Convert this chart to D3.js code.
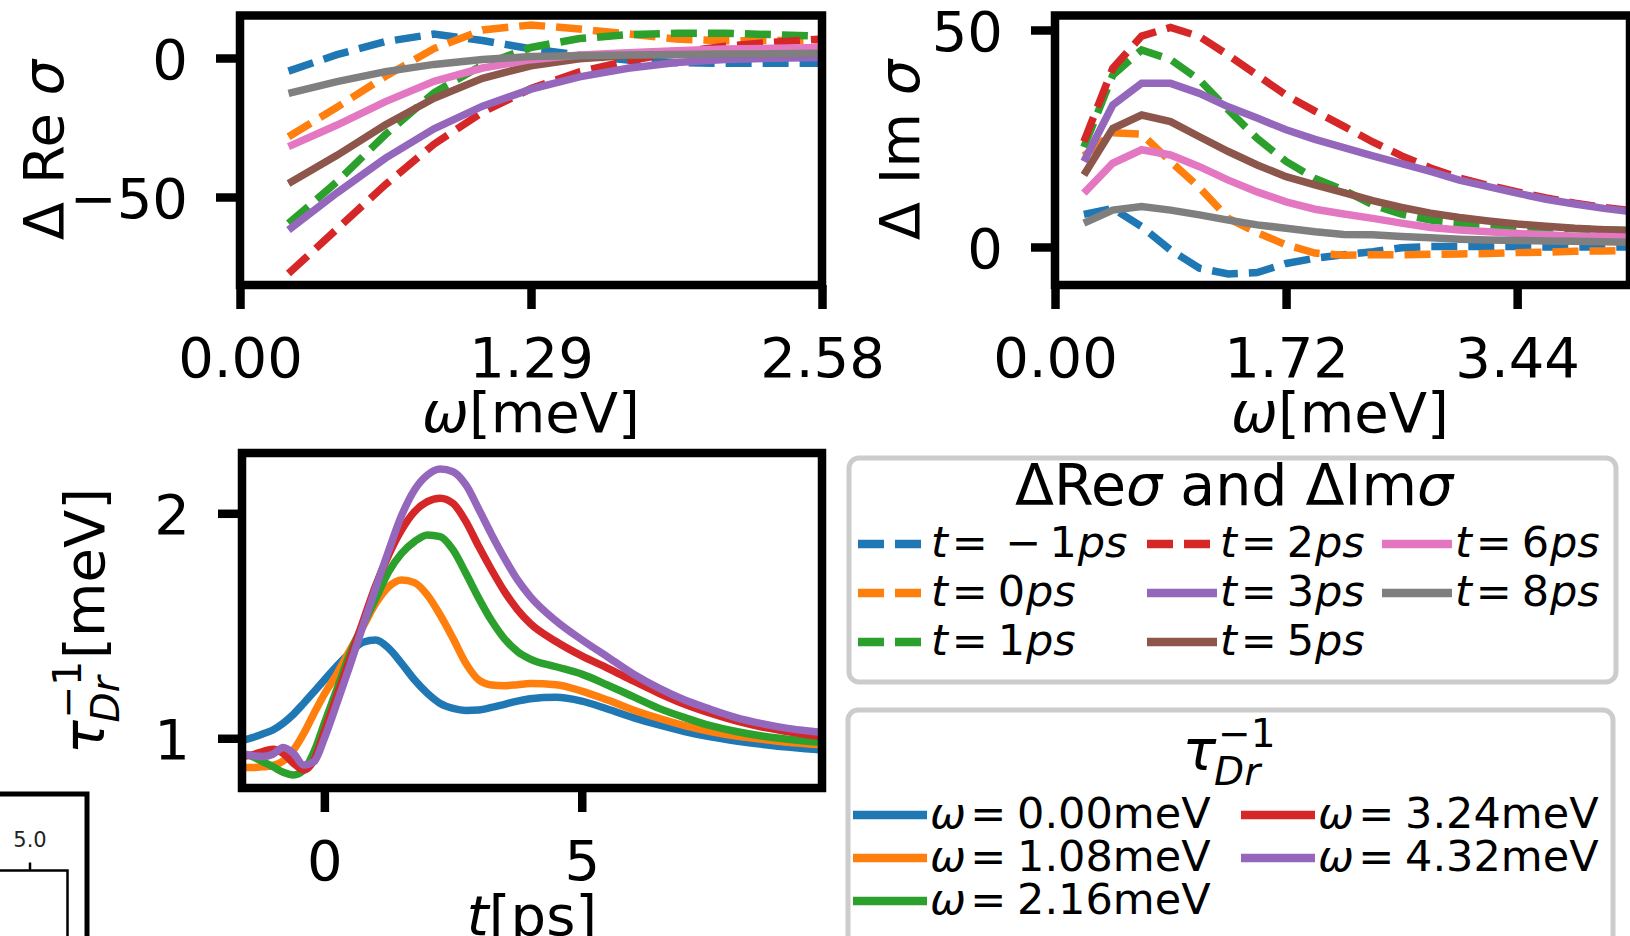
<!DOCTYPE html>
<html>
<head>
<meta charset="utf-8">
<script src="https://cdn.jsdelivr.net/npm/d3@7"></script>
<style>
  html, body { margin: 0; padding: 0; background: #fff; }
  svg { display: block; }
</style>
</head>
<body>
<svg id="fig" width="1630" height="936"></svg>
<script>
// ---------- data ----------
// frequency grid (meV) of the conductivity differences
const omegaRe = [0.215, 0.43, 0.645, 0.86, 1.075, 1.29, 1.505, 1.72, 1.935, 2.15, 2.365, 2.58];
const omegaIm = [0.215, 0.43, 0.645, 0.86, 1.075, 1.29, 1.505, 1.72, 1.935, 2.15, 2.365, 2.58,
                 2.795, 3.01, 3.225, 3.44, 3.655, 3.87, 4.085, 4.3];

// pump-probe delays (ps)
const delays = [-1, 0, 1, 2, 3, 5, 6, 8];

// Δ Re σ for each delay
const reTm1 = [-4.7, 1.2, 5.9, 8.6, 6.3, 3.3, 1.0, -0.7, -1.7, -1.9, -1.9, -1.9];
const reT0  = [-28.3, -17.7, -6.6, 3.4, 10.1, 11.9, 10.4, 8.7, 6.8, 6.2, 6.3, 6.5];
const reT1  = [-59.5, -44.5, -27.5, -12.5, -2.5, 3.8, 7.0, 8.4, 8.9, 8.9, 8.4, 7.9];
const reT2  = [-77.5, -61.5, -45.5, -31.0, -19.5, -11.0, -5.0, -1.0, 2.0, 4.2, 5.7, 6.8];
const reT3  = [-61.9, -48.5, -36.0, -25.5, -17.3, -11.2, -6.8, -3.7, -1.6, -0.5, -0.1, 0.2];
const reT5  = [-45.1, -35.0, -24.0, -14.5, -7.3, -2.8, -0.3, 0.9, 1.3, 1.5, 1.6, 1.7];
const reT6  = [-31.9, -24.1, -15.7, -8.4, -3.6, -0.6, 1.1, 1.9, 2.6, 3.2, 3.5, 3.8];
const reT8  = [-12.7, -8.5, -4.9, -2.3, -0.5, 0.5, 0.8, 1.1, 1.3, 1.4, 1.5, 1.7];

// Δ Im σ for each delay
const imTm1 = [7.5, 8.9, 4.7, -0.7, -4.9, -6.2, -5.9, -3.8, -2.6, -1.8, -1.1, -0.2, 0.1, 0.1, 0.1, 0.1, 0.0, 0.0, 0.0, 0.0];
const imT0  = [21.0, 26.3, 26.0, 19.7, 13.7, 6.6, 3.3, 0.5, -1.4, -1.9, -1.8, -1.8, -1.7, -1.6, -1.5, -1.3, -1.2, -1.0, -0.9, -0.8];
const imT1  = [23.0, 39.6, 45.4, 43.2, 38.5, 31.6, 25.0, 19.7, 15.8, 13.1, 9.7, 7.6, 6.2, 5.5, 5.1, 4.7, 4.4, 4.2, 4.0, 3.8];
const imT2  = [24.3, 41.2, 48.6, 50.6, 48.5, 44.2, 39.6, 35.0, 31.3, 27.8, 24.2, 21.0, 18.2, 15.9, 14.2, 12.7, 11.3, 10.1, 9.1, 8.3];
const imT3  = [19.7, 32.7, 37.7, 37.7, 35.4, 32.3, 29.7, 27.0, 24.8, 22.9, 21.0, 19.2, 17.4, 15.4, 13.9, 12.4, 11.0, 9.9, 8.9, 8.1];
const imT5  = [16.6, 27.3, 30.4, 28.9, 25.4, 22.0, 18.9, 16.2, 14.3, 12.5, 10.7, 9.1, 7.8, 6.8, 6.0, 5.3, 4.8, 4.3, 4.0, 3.7];
const imT6  = [12.4, 19.3, 22.4, 21.2, 18.5, 15.4, 12.7, 10.4, 8.7, 7.6, 6.6, 5.5, 4.5, 3.9, 3.5, 3.1, 2.8, 2.5, 2.4, 2.2];
const imT8  = [5.5, 8.5, 9.3, 8.5, 7.4, 6.2, 5.1, 4.3, 3.5, 2.9, 2.8, 2.4, 2.1, 1.8, 1.6, 1.5, 1.4, 1.3, 1.2, 1.1];

// Drude scattering rate vs delay time, one trace per probe frequency
const tGrid = [-1.6, -1.4, -1.2, -1.0, -0.8, -0.6, -0.4, -0.2, 0,
               0.25, 0.5, 0.75, 1.0, 1.25, 1.5, 1.75, 2.0, 2.25, 2.5, 2.75, 3.0, 3.25, 3.5, 3.75, 4.0,
               4.5, 5.0, 5.5, 6.0, 6.5, 7.0, 7.5, 8.0, 8.5, 9.0, 9.5, 9.7];
const omegaTau = [0.00, 1.08, 2.16, 3.24, 4.32];
const tauW000 = [0.990, 1.003, 1.019, 1.037, 1.067, 1.107, 1.156, 1.207, 1.259,
                 1.323, 1.380, 1.427, 1.437, 1.400, 1.333, 1.260, 1.200, 1.155, 1.133, 1.124, 1.126, 1.137, 1.151, 1.165, 1.176,
                 1.182, 1.165, 1.130, 1.092, 1.059, 1.030, 1.006, 0.988, 0.973, 0.961, 0.951, 0.947];
const tauW108 = [0.870, 0.870, 0.873, 0.879, 0.899, 0.948, 1.022, 1.111, 1.196,
                 1.289, 1.393, 1.496, 1.600, 1.674, 1.704, 1.692, 1.637, 1.548, 1.444, 1.333, 1.259, 1.237, 1.234, 1.238, 1.243,
                 1.238, 1.210, 1.170, 1.126, 1.089, 1.056, 1.030, 1.010, 0.996, 0.982, 0.973, 0.970];
const tauW216 = [0.930, 0.919, 0.896, 0.874, 0.849, 0.837, 0.859, 0.941, 1.067,
                 1.222, 1.378, 1.504, 1.622, 1.741, 1.822, 1.874, 1.904, 1.896, 1.837, 1.733, 1.622, 1.522, 1.442, 1.386, 1.352,
                 1.318, 1.285, 1.237, 1.185, 1.133, 1.092, 1.056, 1.030, 1.010, 0.996, 0.985, 0.982];
const tauW324 = [0.919, 0.926, 0.941, 0.951, 0.933, 0.889, 0.859, 0.904, 1.030,
                 1.193, 1.356, 1.519, 1.681, 1.815, 1.926, 2.007, 2.052, 2.067, 2.044, 1.963, 1.852, 1.748, 1.652, 1.572, 1.510,
                 1.430, 1.366, 1.312, 1.255, 1.200, 1.151, 1.111, 1.077, 1.050, 1.030, 1.012, 1.006];
const tauW432 = [0.933, 0.923, 0.919, 0.929, 0.959, 0.933, 0.881, 0.896, 1.000,
                 1.160, 1.326, 1.500, 1.670, 1.835, 1.990, 2.104, 2.170, 2.197, 2.185, 2.126, 2.018, 1.905, 1.800, 1.705, 1.630,
                 1.522, 1.438, 1.362, 1.286, 1.223, 1.170, 1.129, 1.092, 1.065, 1.044, 1.030, 1.025];

// axis ticks
const reTicksX = [0, 1.29, 2.58];
const reTicksY = [-50, 0];
const imTicksX = [0, 1.72, 3.44];
const imTicksY = [0, 50];
const tauTicksX = [0, 5];
const tauTicksY = [1, 2];
const insetTicks = [5.0];

const reSeries = [reTm1, reT0, reT1, reT2, reT3, reT5, reT6, reT8];
const imSeries = [imTm1, imT0, imT1, imT2, imT3, imT5, imT6, imT8];
const tauSeries = [tauW000, tauW108, tauW216, tauW324, tauW432];

// ---------- styling ----------
const FONT = "DejaVu Sans";
const BIG = 56, MED = 43, SUB = 39;
const SPINE = 8.5, LW = 7.5, LEG_LW = 8.5, DASH = "26 11";
const tab10 = ["#1f77b4", "#ff7f0e", "#2ca02c", "#d62728", "#9467bd", "#8c564b", "#e377c2", "#7f7f7f"];
const delayDashed = d => d <= 2;   // early delays drawn dashed

const svg = d3.select("#fig");
const defs = svg.append("defs");

function makeAxes(o) {
  const x = d3.scaleLinear().domain(o.xDomain).range([o.x0, o.x1]);
  const y = d3.scaleLinear().domain(o.yDomain).range([o.y1, o.y0]);
  defs.append("clipPath").attr("id", o.id).append("rect")
    .attr("x", o.x0).attr("y", o.y0).attr("width", o.x1 - o.x0).attr("height", o.y1 - o.y0);
  const g = svg.append("g");
  const lines = g.append("g").attr("clip-path", `url(#${o.id})`);
  const finish = () => {
    g.append("rect").attr("x", o.x0).attr("y", o.y0)
      .attr("width", o.x1 - o.x0).attr("height", o.y1 - o.y0)
      .attr("fill", "none").attr("stroke", "#000").attr("stroke-width", SPINE);
    const xa = g.append("g").attr("transform", `translate(0,${o.y1})`)
      .call(d3.axisBottom(x).tickValues(o.xTicks).tickFormat(o.xFormat).tickSizeInner(24).tickSizeOuter(0));
    const ya = g.append("g").attr("transform", `translate(${o.x0},0)`)
      .call(d3.axisLeft(y).tickValues(o.yTicks).tickFormat(o.yFormat).tickSizeInner(24).tickSizeOuter(0));
    [xa, ya].forEach(a => {
      a.attr("font-family", FONT).attr("font-size", BIG);
      a.select(".domain").remove();
      a.selectAll(".tick line").attr("stroke", "#000").attr("stroke-width", SPINE);
      a.selectAll(".tick text").attr("fill", "#000");
    });
    xa.selectAll(".tick text").attr("y", 92).attr("dy", null);
    ya.selectAll(".tick text").attr("x", -52).attr("dy", "0.36em");
  };
  return { x, y, g, lines, finish };
}

function addParts(text, parts) {
  parts.forEach(p => {
    const ts = text.append("tspan").text(p.s);
    if (p.it) ts.attr("font-style", "italic");
    if (p.dx != null) ts.attr("dx", p.dx + "em");
  });
  return text;
}

function label(x, y, parts, size, rotate) {
  const t = svg.append("text")
    .attr("font-family", FONT).attr("font-size", size).attr("fill", "#000")
    .attr("text-anchor", "middle");
  if (rotate) t.attr("transform", `translate(${x},${y}) rotate(-90)`);
  else t.attr("x", x).attr("y", y);
  return addParts(t, parts);
}

// ---------- Δ Re σ ----------
const re = makeAxes({
  id: "clipRe", x0: 240, x1: 822, y0: 15.5, y1: 285,
  xDomain: [0, 2.58], yDomain: [-81.65, 15.29],
  xTicks: reTicksX, yTicks: reTicksY, xFormat: d3.format(".2f"), yFormat: d3.format("d")
});
reSeries.forEach((vals, i) => {
  re.lines.append("path")
    .attr("d", d3.line().x((d, j) => re.x(omegaRe[j])).y(d => re.y(d))(vals))
    .attr("fill", "none").attr("stroke", tab10[i]).attr("stroke-width", LW)
    .attr("stroke-dasharray", delayDashed(delays[i]) ? DASH : null);
});
re.finish();
label(531, 432, [{ s: "ω", it: true }, { s: "[meV]" }], BIG);
label(63, 150, [{ s: "Δ Re " }, { s: "σ", it: true }], BIG, true);

// ---------- Δ Im σ ----------
const im = makeAxes({
  id: "clipIm", x0: 1055, x1: 1630, y0: 15.5, y1: 285,
  xDomain: [0, 4.28], yDomain: [-8.76, 53.34],
  xTicks: imTicksX, yTicks: imTicksY, xFormat: d3.format(".2f"), yFormat: d3.format("d")
});
imSeries.forEach((vals, i) => {
  im.lines.append("path")
    .attr("d", d3.line().x((d, j) => im.x(omegaIm[j])).y(d => im.y(d))(vals))
    .attr("fill", "none").attr("stroke", tab10[i]).attr("stroke-width", LW)
    .attr("stroke-dasharray", delayDashed(delays[i]) ? DASH : null);
});
im.finish();
label(1340, 432, [{ s: "ω", it: true }, { s: "[meV]" }], BIG);
label(919, 150, [{ s: "Δ Im " }, { s: "σ", it: true }], BIG, true);

// ---------- τ_Dr^-1 vs delay ----------
const tau = makeAxes({
  id: "clipTau", x0: 242, x1: 822, y0: 453, y1: 788,
  xDomain: [-1.6, 9.667], yDomain: [0.779, 2.268],
  xTicks: tauTicksX, yTicks: tauTicksY, xFormat: d3.format("d"), yFormat: d3.format("d")
});
tauSeries.forEach((vals, i) => {
  tau.lines.append("path")
    .attr("d", d3.line().curve(d3.curveMonotoneX)
      .x((d, j) => tau.x(tGrid[j])).y(d => tau.y(d))(vals))
    .attr("fill", "none").attr("stroke", tab10[i]).attr("stroke-width", LW);
});
tau.finish();
label(532, 935, [{ s: "t", it: true }, { s: "[ps]" }], BIG);

// τ_Dr^{-1} symbol with stacked super/subscript, returns the group
function tauSymbol(parent, size, subSize, supRaise, subDrop, tail) {
  const g = parent.append("g").attr("font-family", FONT).attr("fill", "#000");
  const base = g.append("text").attr("font-size", size).attr("font-style", "italic").text("τ");
  const w0 = base.node().getComputedTextLength();
  const sup = g.append("text").attr("font-size", subSize).attr("x", w0 + 2).attr("y", -supRaise).text("−1");
  const sub = g.append("text").attr("font-size", subSize).attr("font-style", "italic")
    .attr("x", w0 - 2).attr("y", subDrop).text("Dr");
  let w = Math.max(w0 + 2 + sup.node().getComputedTextLength(), w0 - 2 + sub.node().getComputedTextLength());
  if (tail) {
    const t = g.append("text").attr("font-size", size).attr("x", w + 2).text(tail);
    w = w + 2 + t.node().getComputedTextLength();
  }
  g.selectAll("text").each(function () {
    const s = d3.select(this); s.attr("x", (+s.attr("x") || 0) - w / 2);
  });
  return g;
}
tauSymbol(svg, BIG, SUB, 23, 15, "[meV]").attr("transform", "translate(104,621) rotate(-90)");

// ---------- legends ----------
function legendBox(x, y, w, h) {
  svg.append("rect").attr("x", x).attr("y", y).attr("width", w).attr("height", h)
    .attr("rx", 10).attr("fill", "#fff").attr("stroke", "#cccccc").attr("stroke-width", 5);
}

// delays legend
legendBox(849, 458, 767, 224);
label(1234, 505, [{ s: "ΔRe" }, { s: "σ", it: true }, { s: " and ΔIm" }, { s: "σ", it: true }], 57);
const leg1Cols = [858, 1147, 1382];
const leg1Rows = [544, 593, 642];
delays.forEach((d, i) => {
  const cx = leg1Cols[Math.floor(i / 3)], cy = leg1Rows[i % 3];
  svg.append("line").attr("x1", cx).attr("x2", cx + 70).attr("y1", cy).attr("y2", cy)
    .attr("stroke", tab10[i]).attr("stroke-width", LEG_LW)
    .attr("stroke-dasharray", delayDashed(d) ? DASH : null);
  const parts = [{ s: "t", it: true }, { s: "=", dx: 0.09 }];
  if (d < 0) parts.push({ s: "−", dx: 0.4 }, { s: String(-d), dx: 0.2 });
  else parts.push({ s: String(d), dx: 0.23 });
  parts.push({ s: "ps", it: true, dx: 0.02 });
  const t = svg.append("text").attr("x", cx + 73).attr("y", cy + 12.5)
    .attr("font-family", FONT).attr("font-size", MED).attr("fill", "#000");
  addParts(t, parts);
});

// frequencies legend
legendBox(848, 710, 765, 300);
tauSymbol(svg, BIG, SUB, 23, 15, null).attr("transform", "translate(1229,770)");
const leg2Cols = [853, 1241];
const leg2Rows = [815, 858, 901];
omegaTau.forEach((w, i) => {
  const cx = leg2Cols[Math.floor(i / 3)], cy = leg2Rows[i % 3];
  svg.append("line").attr("x1", cx).attr("x2", cx + 74).attr("y1", cy).attr("y2", cy)
    .attr("stroke", tab10[i]).attr("stroke-width", LEG_LW);
  const t = svg.append("text").attr("x", cx + 77).attr("y", cy + 13)
    .attr("font-family", FONT).attr("font-size", MED).attr("fill", "#000");
  addParts(t, [{ s: "ω", it: true }, { s: "=", dx: 0.1 }, { s: d3.format(".2f")(w), dx: 0.25 }, { s: "meV" }]);
});

// ---------- neighbouring panel edge (bottom-left) ----------
const insetX = d3.scaleLinear().domain([4.0, 6.0]).range([-8.5, 67.5]);
svg.append("rect").attr("x", -20).attr("y", 794).attr("width", 107).attr("height", 220)
  .attr("fill", "#fff").attr("stroke", "#000").attr("stroke-width", 5);
svg.append("rect").attr("x", -20).attr("y", 870.5).attr("width", insetX(6.0) + 20).attr("height", 150)
  .attr("fill", "none").attr("stroke", "#000").attr("stroke-width", 2.5);
const ia = svg.append("g").attr("transform", "translate(0,870.5)")
  .call(d3.axisTop(insetX).tickValues(insetTicks).tickFormat(d3.format(".1f")).tickSizeInner(8).tickSizeOuter(0).tickPadding(16));
ia.select(".domain").remove();
ia.attr("font-family", FONT).attr("font-size", 21);
ia.selectAll(".tick line").attr("stroke", "#000").attr("stroke-width", 2.5);
ia.selectAll(".tick text").attr("fill", "#222");
</script>
</body>
</html>
